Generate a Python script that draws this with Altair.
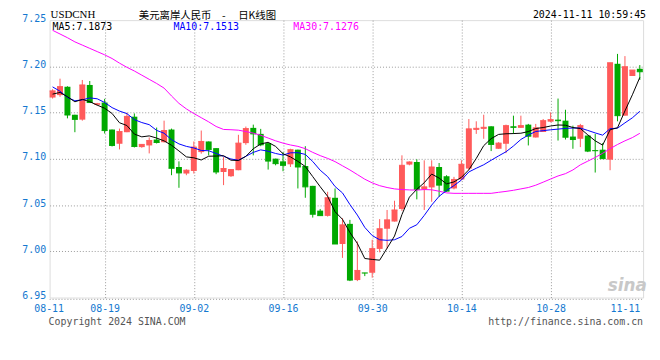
import altair as alt
import pandas as pd

# ---------------- data ----------------
opens = [7.1663, 7.1689, 7.1781, 7.1477, 7.1424, 7.1799, 7.1585, 7.1609, 7.1317, 7.1163,
         7.1288, 7.1456, 7.1127, 7.1145, 7.1209, 7.1180, 7.1317, 7.0912, 7.0841, 7.0869,
         7.1073, 7.1188, 7.1116, 7.0858, 7.0812, 7.0877, 7.1170, 7.1335, 7.1270, 7.1170,
         7.1002, 7.0973, 7.0941, 7.1099, 7.0923, 7.0708, 7.0440, 7.0383, 7.0579, 7.0079,
         7.0297, 6.9689, 6.9768, 6.9768, 7.0026, 7.0244, 7.0322, 7.0458, 7.0938, 7.0966,
         7.0670, 7.0691, 7.0912, 7.0812, 7.0680, 7.0777, 7.0895, 7.1313, 7.1324, 7.1352,
         7.1109, 7.1163, 7.1352, 7.1335, 7.1370, 7.1231, 7.1290, 7.1402, 7.1424, 7.1413,
         7.1241, 7.1217, 7.1252, 7.1094, 7.1099, 7.0991, 7.2028, 7.1467, 7.1896, 7.1974]
highs = [7.1753, 7.1867, 7.1785, 7.1477, 7.1853, 7.1842, 7.1605, 7.1649, 7.1317, 7.1327,
         7.1499, 7.1491, 7.1160, 7.1231, 7.1338, 7.1413, 7.1327, 7.0973, 7.0887, 7.1188,
         7.1306, 7.1188, 7.1116, 7.1019, 7.0890, 7.1260, 7.1349, 7.1370, 7.1324, 7.1170,
         7.1002, 7.1073, 7.1109, 7.1099, 7.1137, 7.0708, 7.0458, 7.0644, 7.0680, 7.0358,
         7.0340, 7.0107, 6.9768, 7.0125, 7.0348, 7.0447, 7.0547, 7.1038, 7.0973, 7.0995,
         7.0984, 7.0984, 7.0955, 7.0823, 7.0805, 7.0984, 7.1431, 7.1406, 7.1477, 7.1352,
         7.1180, 7.1370, 7.1467, 7.1467, 7.1378, 7.1378, 7.1431, 7.1502, 7.1652, 7.1531,
         7.1359, 7.1378, 7.1252, 7.1270, 7.1170, 7.2039, 7.2135, 7.2111, 7.1960, 7.2014]
lows = [7.1652, 7.1671, 7.1438, 7.1288, 7.1413, 7.1609, 7.1575, 7.1274, 7.1134, 7.1102,
        7.1288, 7.1123, 7.1120, 7.1059, 7.1166, 7.1177, 7.0823, 7.0687, 7.0823, 7.0841,
        7.1056, 7.1038, 7.0834, 7.0716, 7.0805, 7.0877, 7.1152, 7.1038, 7.1137, 7.0884,
        7.0930, 7.0866, 7.0912, 7.0680, 7.0579, 7.0365, 7.0386, 7.0376, 7.0079, 6.9929,
        6.9678, 6.9678, 6.9732, 6.9715, 6.9989, 7.0029, 7.0322, 7.0437, 7.0930, 7.0562,
        7.0447, 7.0536, 7.0590, 7.0644, 7.0670, 7.0769, 7.0877, 7.1270, 7.1217, 7.1084,
        7.1109, 7.1062, 7.1270, 7.1335, 7.1145, 7.1231, 7.1290, 7.1395, 7.1198, 7.1209,
        7.1109, 7.1127, 7.1073, 7.0852, 7.1002, 7.0877, 7.1406, 7.1467, 7.1896, 7.1853]
closes = [7.1735, 7.1781, 7.1474, 7.1427, 7.1799, 7.1609, 7.1596, 7.1306, 7.1145, 7.1295,
          7.1459, 7.1134, 7.1156, 7.1198, 7.1177, 7.1306, 7.0898, 7.0848, 7.0877, 7.1127,
          7.1188, 7.1102, 7.0858, 7.0895, 7.0884, 7.1170, 7.1327, 7.1270, 7.1152, 7.0976,
          7.0948, 7.0930, 7.1099, 7.0912, 7.0697, 7.0401, 7.0386, 7.0579, 7.0079, 7.0286,
          6.9689, 6.9793, 6.9765, 7.0029, 7.0244, 7.0340, 7.0447, 7.0930, 7.0966, 7.0670,
          7.0697, 7.0912, 7.0716, 7.0651, 7.0777, 7.0941, 7.1324, 7.1330, 7.1341, 7.1156,
          7.1170, 7.1359, 7.1341, 7.1359, 7.1245, 7.1335, 7.1413, 7.1424, 7.1413, 7.1234,
          7.1209, 7.1359, 7.1084, 7.1088, 7.1002, 7.2039, 7.1467, 7.1996, 7.1960, 7.1942]
# closes of the nine sessions before the first candle (only feed the MA5 / MA10 start)
prior_closes = [7.2250, 7.2150, 7.1782, 7.1700, 7.1398, 7.1690, 7.1705, 7.1702, 7.1668]
# MA30 as drawn (magenta line), one value per candle
ma30 = [7.2390, 7.2350, 7.2310, 7.2265, 7.2230, 7.2195, 7.2160, 7.2125, 7.2085, 7.2035,
        7.1990, 7.1950, 7.1905, 7.1860, 7.1815, 7.1765, 7.1680, 7.1600, 7.1540, 7.1490,
        7.1445, 7.1400, 7.1350, 7.1318, 7.1315, 7.1310, 7.1295, 7.1278, 7.1255, 7.1225,
        7.1195, 7.1170, 7.1150, 7.1135, 7.1110, 7.1070, 7.1035, 7.1005, 7.0970, 7.0925,
        7.0880, 7.0830, 7.0780, 7.0740, 7.0710, 7.0690, 7.0675, 7.0668, 7.0664, 7.0662,
        7.0668, 7.0665, 7.0650, 7.0632, 7.0627, 7.0627, 7.0627, 7.0627, 7.0627, 7.0627,
        7.0638, 7.0648, 7.0660, 7.0675, 7.0690, 7.0715, 7.0748, 7.0782, 7.0815, 7.0840,
        7.0880, 7.0935, 7.0975, 7.1015, 7.1060, 7.1110, 7.1155, 7.1195, 7.1230, 7.1276]

tick_idx = [0, 7, 19, 31, 43, 55, 67, 79]
tick_labels = ["08-11", "08-19", "09-02", "09-16", "09-30", "10-14", "10-28", "11-11"]
y_ticks = [6.95, 7.00, 7.05, 7.10, 7.15, 7.20, 7.25]
legend_labels = ["MA5:7.1873", "MA10:7.1513", "MA30:7.1276"]
symbol = "USDCNH"
title_text = "美元离岸人民币\u2003-\u2003 日K线图"
stamp = "2024-11-11 10:59:45"
copyright_text = "Copyright 2024 SINA.COM"
url_text = "http://finance.sina.com.cn"

# ---------------- table ----------------
n = len(closes)
allc = pd.Series(prior_closes + closes)
k = len(prior_closes)
df = pd.DataFrame({
    "i": list(range(n)),
    "open": opens, "high": highs, "low": lows, "close": closes,
    "ma5": allc.rolling(5).mean().iloc[k:].to_numpy(),
    "ma10": allc.rolling(10).mean().iloc[k:].to_numpy(),
    "ma30": ma30,
})

RED = "#ff5a5a"
GREEN = "#00a800"
AXIS_BLUE = "#1478d0"
MONO = "DejaVu Sans Mono"

xs = alt.Scale(domain=[-0.4, 79.44], nice=False, zero=False)
ys = alt.Scale(domain=[6.95, 7.25], nice=False, zero=False)

lab_arr = "[" + ",".join(f"'{t}'" for t in tick_labels) + "]"
idx_arr = "[" + ",".join(str(t) for t in tick_idx) + "]"

x_axis = alt.Axis(
    values=tick_idx, labelExpr=f"{lab_arr}[indexof({idx_arr}, datum.value)]",
    grid=True, gridDash=[1, 2], gridColor="#9a9a9a",
    gridOpacity={"condition": {"test": f"datum.value == {tick_idx[0]} || datum.value == {tick_idx[-1]}", "value": 0}, "value": 1},
    domain=False, ticks=False, tickSize=0, labelFont=MONO, labelFontSize=10,
    labelColor=AXIS_BLUE, labelPadding=6, labelFlush=False,
    labelAlign={"condition": {"test": f"datum.value == {tick_idx[-1]}", "value": "right"}, "value": "center"},
    labelOffset={"condition": {"test": f"datum.value == {tick_idx[0]}", "value": -4}, "value": 0},
    title=None)
y_axis = alt.Axis(
    values=y_ticks, format=".2f", grid=True, gridDash=[1, 2], gridColor="#9a9a9a",
    gridOpacity={"condition": {"test": "datum.value > 7.245 || datum.value < 6.955", "value": 0}, "value": 1},
    domain=False, ticks=False, tickSize=0, labelFont=MONO, labelFontSize=10,
    labelColor=AXIS_BLUE, labelPadding=4, labelOffset=-2, title=None)

color = alt.condition("datum.close >= datum.open", alt.value(RED), alt.value(GREEN))

base = alt.Chart(df)

wicks = base.mark_rule(strokeWidth=1).encode(
    x=alt.X("i:Q", scale=xs, axis=x_axis),
    y=alt.Y("low:Q", scale=ys, axis=y_axis),
    y2="high:Q",
    color=color,
)
bodies = base.transform_calculate(x0="datum.i - 0.4", x1="datum.i + 0.4").mark_rect().encode(
    x=alt.X("x0:Q", scale=xs), x2="x1:Q",
    y=alt.Y("open:Q", scale=ys), y2="close:Q",
    color=color,
)
closes_tick = base.transform_calculate(x0="datum.i - 0.4", x1="datum.i + 0.4").mark_rule(strokeWidth=1).encode(
    x=alt.X("x0:Q", scale=xs), x2="x1:Q",
    y=alt.Y("close:Q", scale=ys),
    color=color,
)

def ma_line(field, col):
    return base.mark_line(strokeWidth=1, color=col, clip=True).encode(
        x=alt.X("i:Q", scale=xs), y=alt.Y(f"{field}:Q", scale=ys))

l5 = ma_line("ma5", "#000000")
l10 = ma_line("ma10", "#0000ff")
l30 = ma_line("ma30", "#ff00ff")

one = pd.DataFrame({"t": [""]})
bottom_dots = alt.Chart(one).mark_rule(color="#9a9a9a", strokeWidth=1, strokeDash=[1, 2]).encode(
    x=alt.value(0), x2=alt.value(599), y=alt.value(281.8))

def label(text, px, py, col="#000000", font=MONO, size=10, align="left", baseline="middle", **kw):
    return alt.Chart(pd.DataFrame({"t": [text]})).mark_text(
        font=font, fontSize=size, align=align, baseline=baseline, color=col, **kw
    ).encode(text="t:N", x=alt.value(px), y=alt.value(py))

texts = [
    label(legend_labels[0], 3, 6.6, "#000000"),
    label(legend_labels[1], 125, 6.6, "#0000ff"),
    label(legend_labels[2], 246, 6.6, "#ff00ff"),
    label(symbol, 1, -2.5, "#000000", font="Liberation Serif", size=11, baseline="alphabetic"),
    label(title_text, 90, -1.2, "#000000", font="Noto Sans CJK SC", size=10.5, baseline="alphabetic"),
    label(stamp, 602, -2.5, "#000000", align="right", baseline="alphabetic"),
    label(copyright_text, -1, 304.5, "#555555"),
    label(url_text, 599, 304.5, "#555555", align="right"),
    label("sina", 583, 268, "#c8c8c8", font="DejaVu Sans", size=17, align="center",
          fontStyle="italic", fontWeight="bold"),
]

chart = alt.layer(bottom_dots, wicks, bodies, closes_tick, l30, l10, l5, *texts).properties(
    width=599, height=280,
    autosize=alt.AutoSizeParams(type="none"),
    padding={"left": 42, "top": 10.7, "right": 9, "bottom": 44},
).configure_view(stroke="#999999", strokeWidth=1).configure(background="#ffffff")

chart.save("out.html", embed_options={"renderer": "svg", "actions": False})
